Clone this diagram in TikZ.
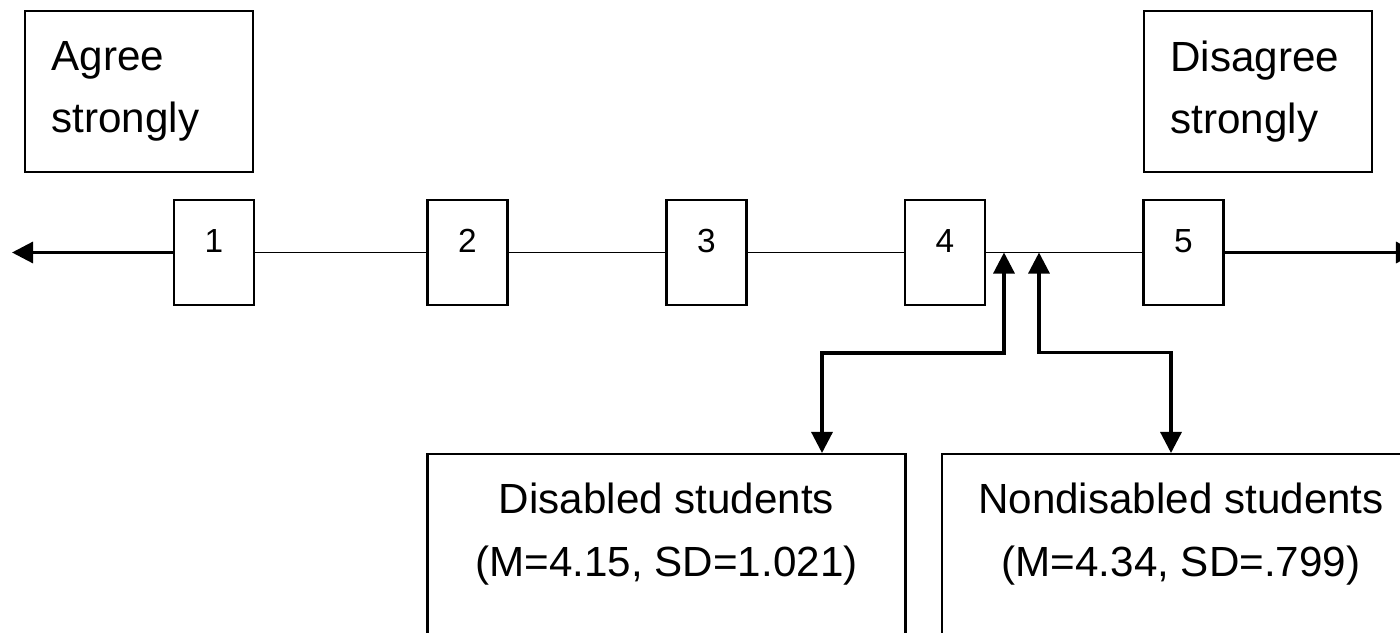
\documentclass[tikz,border=0pt]{standalone}
\usepackage{fontspec}
\setmainfont{Liberation Sans}
\usetikzlibrary{arrows.meta}

\begin{document}
\begin{tikzpicture}[
  every node/.style={font=\fontsize{24}{35.5}\selectfont},
  >={Triangle[length=12pt, width=12pt]},
  endbox/.style={rectangle, draw, line width=1.4pt, minimum width=4.56cm, minimum height=3.22cm, text width=3.5cm, inner xsep=0.53cm, align=left},
  pointbox/.style={rectangle, draw, line width=1.4pt, minimum width=1.6cm, minimum height=2.1cm, font=\fontsize{19}{23}\selectfont, text height=0.48cm, text depth=0.5cm},
  groupbox/.style={rectangle, draw, line width=1.4pt, anchor=north, minimum width=9.56cm, inner ysep=0.58cm, align=center},
  axisline/.style={line width=1pt},
  axisarr/.style={->, line width=1.8pt},
  conn/.style={<->, line width=1.8pt},
]

\useasboundingbox (0, 0) rectangle (28, -12.64);
\clip (0, 0) rectangle (28, -12.64);

% End labels
\node[endbox] (agree) at (2.78, -1.83) {Agree\\strongly};
\node[endbox] (disagree) at (25.16, -1.83) {Disagree\\strongly};

% Scale points
\node[pointbox] (p1) at (4.28, -5.05) {1};
\node[pointbox] (p2) at (9.35, -5.05) {2};
\node[pointbox] (p3) at (14.13, -5.05) {3};
\node[pointbox] (p4) at (18.90, -5.05) {4};
\node[pointbox] (p5) at (23.67, -5.05) {5};

% Scale ends and means
\coordinate (left) at (0.24, -5.05);
\coordinate (right) at (28.34, -5.05);
\coordinate (m1) at (20.08, -5.05);
\coordinate (m2) at (20.78, -5.05);

% Groups
\node[groupbox] (dis) at (13.33, -9.06) {Disabled students\\(M=4.15, SD=1.021)\\\mbox{}};
\node[groupbox] (nondis) at (23.62, -9.06) {Nondisabled students\\(M=4.34, SD=.799)\\\mbox{}};

% Scale line
\draw[axisarr] (p1) -- (left);
\draw[axisline] (p1) -- (p2);
\draw[axisline] (p2) -- (p3);
\draw[axisline] (p3) -- (p4);
\draw[axisline] (p4) -- (p5);
\draw[axisarr] (p5) -- (right);

% Connectors
\draw[conn] ([xshift=3.11cm]dis.north) -- ++(0, 2) -| (m1);
\draw[conn] (m2) -- ++(0, -2) -| ([xshift=-0.2cm]nondis.north);

\end{tikzpicture}
\end{document}
